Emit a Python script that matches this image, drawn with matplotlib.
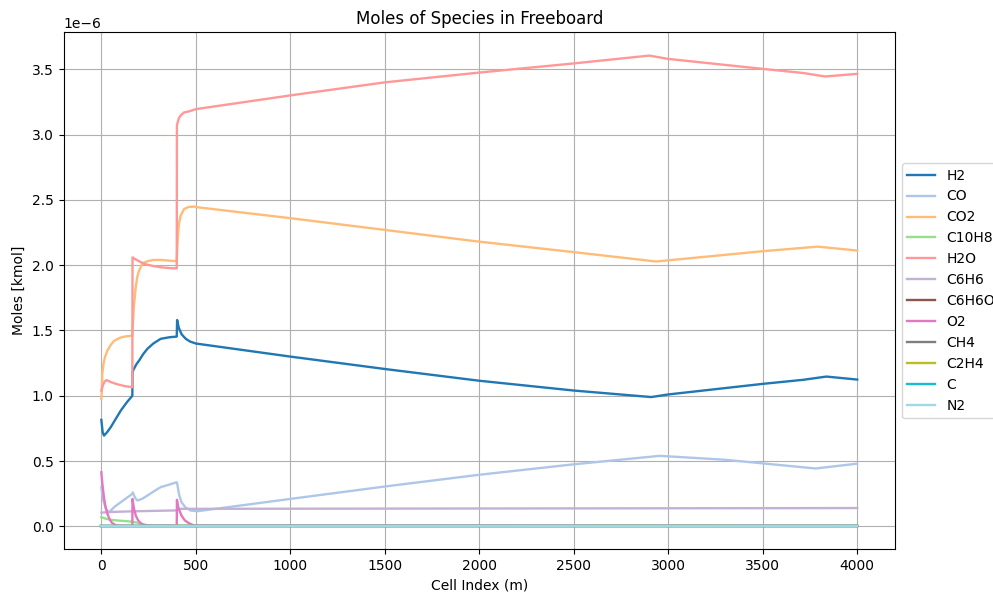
import matplotlib
matplotlib.use("Agg")
import matplotlib.pyplot as plt
import numpy as np

# Moles of each gas species along the freeboard (kmol), sampled at cell index (m)
species = ["H2", "CO", "CO2", "C10H8", "H2O", "C6H6", "C6H6O", "O2", "CH4", "C2H4", "C", "N2"]
colors = ["#1f77b4", "#aec7e8", "#ffbb78", "#98df8a", "#ff9896", "#c5b0d5",
          "#8c564b", "#e377c2", "#7f7f7f", "#bcbd22", "#17becf", "#9edae5"]

h2_x = [0, 7, 14, 30, 50, 75, 103, 135, 164, 165, 170, 185, 200, 222, 244, 275, 314, 360,
        399, 401, 410, 425, 447, 470, 500, 1000, 1500, 2000, 2500, 2910, 3000, 3500, 3713, 3837, 4000]
h2_y = [0.815, 0.72, 0.695, 0.72, 0.76, 0.82, 0.887, 0.95, 1.0, 1.18, 1.20, 1.24, 1.27, 1.32,
        1.36, 1.40, 1.436, 1.448, 1.453, 1.58, 1.52, 1.47, 1.436, 1.415, 1.40, 1.30, 1.205,
        1.115, 1.04, 0.99, 1.01, 1.091, 1.122, 1.147, 1.124]

co_x = [0, 10, 25, 41, 70, 103, 164, 166, 180, 191, 215, 244, 280, 314, 360, 399, 401, 412,
        424, 445, 473, 509, 1000, 1500, 2000, 2500, 2955, 3300, 3780, 4000]
co_y = [0.30, 0.20, 0.13, 0.108, 0.15, 0.185, 0.249, 0.26, 0.215, 0.198, 0.21, 0.236, 0.27,
        0.30, 0.32, 0.338, 0.33, 0.24, 0.185, 0.145, 0.121, 0.116, 0.21, 0.305, 0.395,
        0.475, 0.54, 0.51, 0.443, 0.48]

co2_x = [0, 3, 5, 12, 20, 32, 50, 67, 100, 130, 164, 165, 172, 182, 190, 200, 215, 226, 244,
         275, 314, 360, 399, 401, 405, 411, 420, 438, 460, 491, 500, 1000, 1500, 2000, 2500,
         2936, 3200, 3501, 3792, 4000]
co2_y = [0.976, 1.05, 1.17, 1.25, 1.30, 1.346, 1.39, 1.42, 1.445, 1.455, 1.46, 1.50, 1.68,
         1.83, 1.91, 1.96, 2.005, 2.02, 2.03, 2.04, 2.04, 2.035, 2.03, 2.10, 2.22, 2.32, 2.38,
         2.43, 2.445, 2.449, 2.445, 2.36, 2.27, 2.18, 2.10, 2.028, 2.065, 2.107, 2.142, 2.112]

c10h8_x = [0, 25, 50, 100, 138, 165, 190, 209, 240, 270, 4000]
c10h8_y = [0.07, 0.058, 0.05, 0.043, 0.039, 0.035, 0.028, 0.02, 0.01, 0.004, 0.004]

h2o_x = [0, 8, 18, 28, 50, 80, 120, 164, 165, 175, 200, 226, 270, 314, 360, 399, 400, 405,
         412, 422, 438, 465, 500, 1000, 1500, 2000, 2500, 2900, 2998, 3501, 3713, 3830, 4000]
h2o_y = [1.04, 1.08, 1.11, 1.12, 1.105, 1.09, 1.075, 1.065, 2.06, 2.05, 2.03, 2.01, 1.995,
         1.984, 1.978, 1.975, 3.07, 3.10, 3.13, 3.15, 3.17, 3.178, 3.195, 3.30, 3.40, 3.475,
         3.545, 3.605, 3.58, 3.503, 3.472, 3.445, 3.465]

c6h6_x = [0, 50, 165, 399, 410, 4000]
c6h6_y = [0.105, 0.11, 0.115, 0.122, 0.134, 0.14]

c6h6o_x = [0, 4000]
c6h6o_y = [0.004, 0.004]

o2_x = [0, 5, 10, 14, 22, 32, 45, 58, 80, 164, 165, 172, 182, 195, 209, 230, 399, 400, 408,
        424, 442, 464, 490, 4000]
o2_y = [0.414, 0.33, 0.27, 0.22, 0.15, 0.096, 0.05, 0.024, 0.006, 0.004, 0.21, 0.14, 0.083,
        0.045, 0.024, 0.006, 0.004, 0.203, 0.14, 0.083, 0.045, 0.024, 0.006, 0.004]

ch4_x = [0, 4000]
ch4_y = [0.004, 0.004]

c2h4_x = [0, 4000]
c2h4_y = [0.004, 0.004]

c_x = [0, 4000]
c_y = [0.004, 0.004]

n2_x = [0, 4000]
n2_y = [0.005, 0.005]

series = [(h2_x, h2_y), (co_x, co_y), (co2_x, co2_y), (c10h8_x, c10h8_y), (h2o_x, h2o_y),
          (c6h6_x, c6h6_y), (c6h6o_x, c6h6o_y), (o2_x, o2_y), (ch4_x, ch4_y),
          (c2h4_x, c2h4_y), (c_x, c_y), (n2_x, n2_y)]

fig = plt.figure(figsize=(9.93, 5.94), dpi=100)
ax = fig.add_axes([0.064, 0.0752, 0.8373, 0.8708])

for name, col, (xs, ys) in zip(species, colors, series):
    ax.plot(xs, np.array(ys) * 1e-6, color=col, label=name, lw=1.7)

ax.set_title("Moles of Species in Freeboard")
ax.set_xlabel("Cell Index (m)")
ax.set_ylabel("Moles [kmol]")
ax.grid(True)
ax.legend(loc="center left", bbox_to_anchor=(1.0, 0.5))

fig.savefig("out.png", dpi=100)
